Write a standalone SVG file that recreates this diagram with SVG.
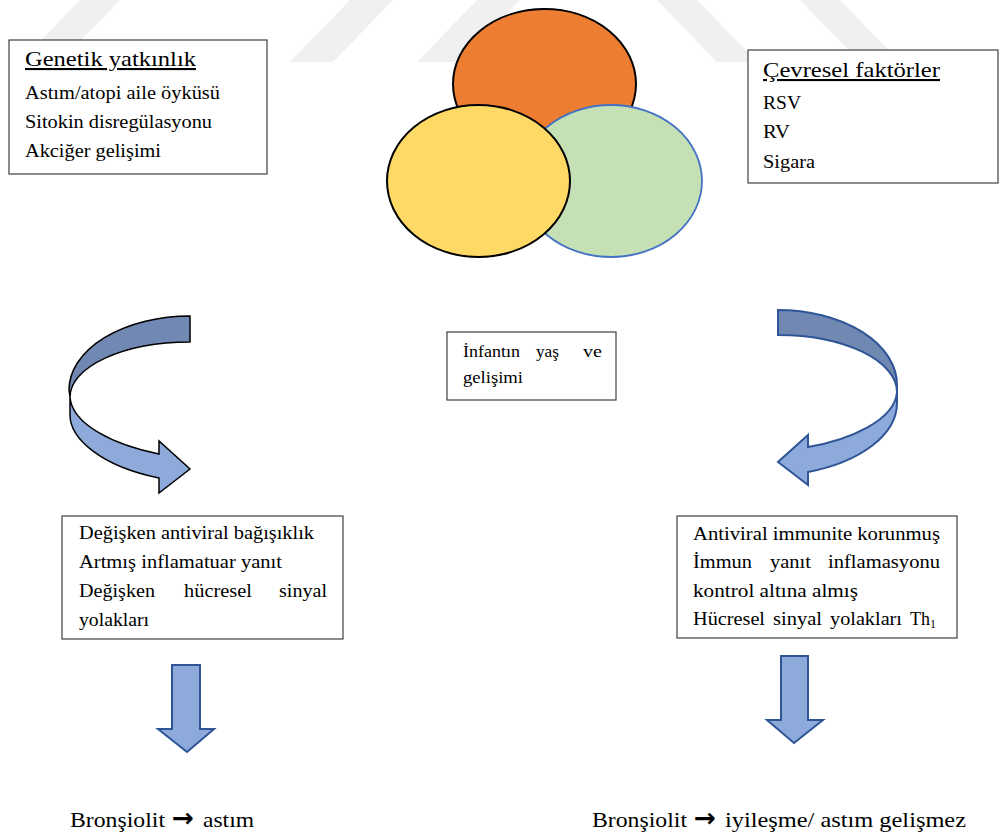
<svg xmlns="http://www.w3.org/2000/svg" width="1000" height="833" viewBox="0 0 1000 833">
<style>
.wm{fill:#f0f0f0}
.box{fill:#fff;stroke:#404040;stroke-width:1.2}
.b{font-size:18px}
.c{font-size:17px}
.ti{font-size:21px;text-decoration:underline}
.bt{font-size:22px}
.ar{font-weight:bold;font-size:26px}
.dk{fill:#7088b2}
.lt{fill:#8eaadb}
.sk1{stroke:#000;stroke-width:1.5;stroke-linejoin:miter}
.sk2{stroke:#2f5597;stroke-width:2;stroke-linejoin:miter}
</style>
<rect width="1000" height="833" fill="#fff"/>
<g id="watermark">
<polygon class="wm" points="20,62 60,62 120,0 80,0"/>
<polygon class="wm" points="290,62 333,62 393,0 350,0"/>
<polygon class="wm" points="417,62 460,62 520,0 477,0"/>
<polygon class="wm" points="657,0 697,0 757,62 717,62"/>
<polygon class="wm" points="800,0 840,0 900,62 860,62"/>
</g>
<g id="venn">
<ellipse cx="544.5" cy="84" rx="91.5" ry="75" fill="#ed7d31" stroke="#000" stroke-width="2"/>
<ellipse cx="611" cy="181" rx="91" ry="76" fill="#c5e0b4" stroke="#4472c4" stroke-width="1.8"/>
<ellipse cx="478.5" cy="181" rx="91.5" ry="76" fill="#ffd966" stroke="#000" stroke-width="2"/>
</g>
<g font-family="Liberation Serif, Times New Roman, DejaVu Serif, serif" fill="#000">
<g id="genetik">
<rect class="box" x="9" y="40" width="258" height="134"/>
<text class="ti" x="25" y="66" textLength="171" lengthAdjust="spacingAndGlyphs">Genetik yatkınlık</text>
<text class="b" x="25" y="99" textLength="195" lengthAdjust="spacingAndGlyphs">Astım/atopi aile öyküsü</text>
<text class="b" x="25" y="128" textLength="187" lengthAdjust="spacingAndGlyphs">Sitokin disregülasyonu</text>
<text class="b" x="25" y="157" textLength="136" lengthAdjust="spacingAndGlyphs">Akciğer gelişimi</text>
</g>
<g id="cevresel">
<rect class="box" x="748" y="50" width="250" height="133"/>
<text class="ti" x="763" y="77" textLength="177" lengthAdjust="spacingAndGlyphs">Çevresel faktörler</text>
<text class="b" x="763" y="109" textLength="38" lengthAdjust="spacingAndGlyphs">RSV</text>
<text class="b" x="763" y="138" textLength="27" lengthAdjust="spacingAndGlyphs">RV</text>
<text class="b" x="763" y="168" textLength="52" lengthAdjust="spacingAndGlyphs">Sigara</text>
</g>
<g id="infant">
<rect class="box" x="447" y="332" width="169" height="68"/>
<text class="c" x="463" y="357" textLength="57" lengthAdjust="spacingAndGlyphs">İnfantın</text>
<text class="c" x="536" y="357" textLength="23" lengthAdjust="spacingAndGlyphs">yaş</text>
<text class="c" x="583" y="357" textLength="19" lengthAdjust="spacingAndGlyphs">ve</text>
<text class="c" x="463" y="383" textLength="60" lengthAdjust="spacingAndGlyphs">gelişimi</text>
</g>
<g id="sol-kutu">
<rect class="box" x="62" y="516" width="281" height="123"/>
<text class="b" x="79" y="539" textLength="235" lengthAdjust="spacingAndGlyphs">Değişken antiviral bağışıklık</text>
<text class="b" x="79" y="568" textLength="203" lengthAdjust="spacingAndGlyphs">Artmış inflamatuar yanıt</text>
<text class="b" x="79" y="597" textLength="76" lengthAdjust="spacingAndGlyphs">Değişken</text>
<text class="b" x="184" y="597" textLength="68" lengthAdjust="spacingAndGlyphs">hücresel</text>
<text class="b" x="279" y="597" textLength="48" lengthAdjust="spacingAndGlyphs">sinyal</text>
<text class="b" x="79" y="626" textLength="70" lengthAdjust="spacingAndGlyphs">yolakları</text>
</g>
<g id="sag-kutu">
<rect class="box" x="677" y="516" width="280" height="122"/>
<text class="b" x="693" y="540" textLength="247" lengthAdjust="spacingAndGlyphs">Antiviral immunite korunmuş</text>
<text class="b" x="693" y="568" textLength="59" lengthAdjust="spacingAndGlyphs">İmmun</text>
<text class="b" x="770" y="568" textLength="41" lengthAdjust="spacingAndGlyphs">yanıt</text>
<text class="b" x="828" y="568" textLength="112" lengthAdjust="spacingAndGlyphs">inflamasyonu</text>
<text class="b" x="693" y="597" textLength="165" lengthAdjust="spacingAndGlyphs">kontrol altına almış</text>
<text class="b" x="693" y="625" textLength="72" lengthAdjust="spacingAndGlyphs">Hücresel</text>
<text class="b" x="773" y="625" textLength="49" lengthAdjust="spacingAndGlyphs">sinyal</text>
<text class="b" x="830" y="625" textLength="72" lengthAdjust="spacingAndGlyphs">yolakları</text>
<text class="b" x="910" y="625">Th<tspan font-size="12" dy="3">1</tspan></text>
</g>
<g id="sonuc-sol">
<text class="bt" x="70" y="827" textLength="95" lengthAdjust="spacingAndGlyphs">Bronşiolit</text>
<text class="ar" x="172" y="827" textLength="22" lengthAdjust="spacingAndGlyphs" font-family="DejaVu Sans, sans-serif">→</text>
<text class="bt" x="203" y="827" textLength="51" lengthAdjust="spacingAndGlyphs">astım</text>
</g>
<g id="sonuc-sag">
<text class="bt" x="592" y="827" textLength="95" lengthAdjust="spacingAndGlyphs">Bronşiolit</text>
<text class="ar" x="694" y="827" textLength="22" lengthAdjust="spacingAndGlyphs" font-family="DejaVu Sans, sans-serif">→</text>
<text class="bt" x="725" y="827" textLength="241" lengthAdjust="spacingAndGlyphs">iyileşme/ astım gelişmez</text>
</g>
</g>
<g id="connectors">
<g id="sol-kivrik-ok">
<path class="dk sk1" d="M190,316 L190,342 A120,55 0 0 0 70,397 L69,390 A121,74 0 0 1 190,316 Z"/>
<path class="lt sk1" d="M70,397 L70,415 C70,438 100,466 159,478 L159,493 L190,469 L159,441 L159,454 C115,445 72,425 70,397 Z"/>
</g>
<g id="sag-kivrik-ok">
<path class="dk sk2" d="M778,310 A119,75 0 0 1 897,385 L897,392 A119,57 0 0 0 778,335 Z"/>
<path class="lt sk2" d="M897,392 L897,403 C897,435 860,462 808,472 L808,485 L778,462 L808,435 L808,447 C850,440 895,420 897,392 Z"/>
</g>
<path id="sol-asagi-ok" class="lt sk2" d="M172,665 L200,665 L200,729 L214,729 L187,752 L158,729 L172,729 Z"/>
<path id="sag-asagi-ok" class="lt sk2" d="M781,656 L808,656 L808,720 L823,720 L794,743 L767,720 L781,720 Z"/>
</g>
</svg>
